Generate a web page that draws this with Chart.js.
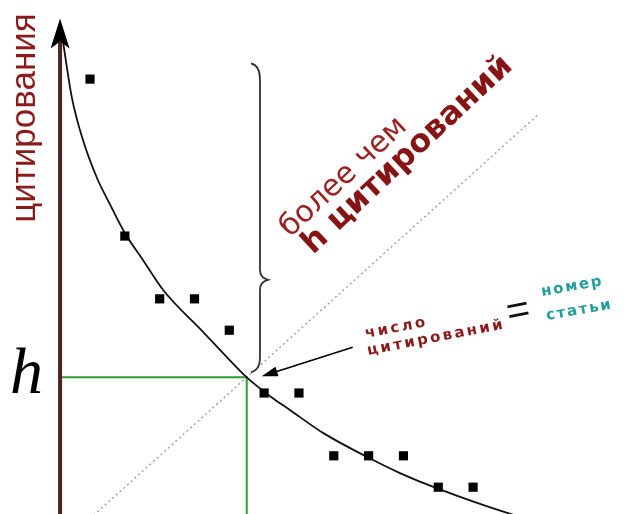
<!DOCTYPE html>
<html>
<head>
<meta charset="utf-8">
<script src="https://cdn.jsdelivr.net/npm/chart.js@4/dist/chart.umd.min.js"></script>
<style>
  body { margin: 0; background: #fff; }
  #wrap { width: 627px; height: 514px; }
</style>
</head>
<body>
<div id="wrap"><canvas id="myChart" width="627" height="514"></canvas></div>
<script>
// номера статей и число цитирований (по убыванию)
const papers = [1, 2, 3, 4, 5, 6, 7, 8, 9, 10, 11, 12]
const citations = [15, 10, 8, 8, 7, 5, 5, 3, 3, 3, 2, 2]

// гладкая кривая распределения
const curveX = [0.23, 0.48, 0.8, 1.2, 1.57, 2.0, 2.52, 3.1, 4.25, 4.82, 5.51, 6.17, 6.74, 7.69, 8.96, 9.9, 10.97, 12.98, 13.92]
const curveY = [16.15, 14.4, 13.05, 11.85, 11.02, 10.1, 9.24, 8.28, 6.94, 6.27, 5.49, 4.9, 4.46, 3.73, 2.96, 2.45, 1.96, 1.18, 0.89]

// диагональ "число цитирований = номер статьи"
const diagX = [1, 13.84]

const hIndex = 5.5
const axisX = 0.14
const axisTop = 16.2
const xMin = -1.585, xMax = 16.42
const yMin = 1.146, yMax = 17.52

const annotations = {
	id: 'annotations',
	afterDatasetsDraw(chart) {
		const ctx = chart.ctx
		const xs = chart.scales.x
		const ys = chart.scales.y
		ctx.save()

		// стрелка оси
		const ax = xs.getPixelForValue(axisX)
		const at = ys.getPixelForValue(axisTop)
		ctx.fillStyle = '#000'
		ctx.beginPath()
		ctx.moveTo(ax, at - 23)
		ctx.lineTo(ax - 9.5, at + 7)
		ctx.lineTo(ax, at)
		ctx.lineTo(ax + 9.5, at + 7)
		ctx.closePath()
		ctx.fill()

		// фигурная скобка
		const bx = xs.getPixelForValue(hIndex + 0.38)
		const bt = ys.getPixelForValue(citations[0] + 0.5)
		const bb = ys.getPixelForValue(hIndex) - 5
		const bm = (bt + bb) / 2 + 62
		ctx.strokeStyle = '#333'
		ctx.lineWidth = 1.8
		ctx.beginPath()
		ctx.moveTo(bx - 9, bt)
		ctx.quadraticCurveTo(bx, bt + 2, bx, bt + 16)
		ctx.lineTo(bx, bm - 10)
		ctx.quadraticCurveTo(bx, bm - 2, bx + 8, bm)
		ctx.quadraticCurveTo(bx, bm + 2, bx, bm + 10)
		ctx.lineTo(bx, bb - 14)
		ctx.quadraticCurveTo(bx, bb - 2, bx - 9, bb)
		ctx.stroke()

		// стрелка к точке h
		const tipX = xs.getPixelForValue(hIndex) + 15
		const tipY = ys.getPixelForValue(hIndex) - 1
		const fromX = tipX + 91, fromY = tipY - 29
		const ang = Math.atan2(tipY - fromY, tipX - fromX)
		ctx.strokeStyle = '#000'
		ctx.lineWidth = 1.6
		ctx.beginPath()
		ctx.moveTo(fromX, fromY)
		ctx.lineTo(tipX - 10 * Math.cos(ang), tipY - 10 * Math.sin(ang))
		ctx.stroke()
		ctx.beginPath()
		ctx.moveTo(tipX, tipY)
		ctx.lineTo(tipX - 16 * Math.cos(ang) + 5 * Math.sin(ang), tipY - 16 * Math.sin(ang) - 5 * Math.cos(ang))
		ctx.lineTo(tipX - 16 * Math.cos(ang) - 5 * Math.sin(ang), tipY - 16 * Math.sin(ang) + 5 * Math.cos(ang))
		ctx.closePath()
		ctx.fill()

		// подписи
		const text = (str, x, y, deg, font, color, align, spacing) => {
			ctx.save()
			ctx.translate(x, y)
			ctx.rotate(deg * Math.PI / 180)
			ctx.font = font
			ctx.fillStyle = color
			ctx.textAlign = align || 'left'
			ctx.textBaseline = 'alphabetic'
			ctx.letterSpacing = spacing || '0px'
			ctx.fillText(str, 0, 0)
			ctx.restore()
		}
		text('цитирования', 35, 118, -90, '35px "Liberation Sans"', '#8b1a1a', 'center')
		text('h', 10, 393, 0, 'italic 66px "Liberation Serif"', '#000')
		text('более чем', 290, 238, -43, '30px "DejaVu Sans"', '#9b2222')
		text('h цитирований', 313, 255, -43, 'bold 32px "DejaVu Sans"', '#861414')
		text('число', 366, 338, -11, 'bold 15px "DejaVu Sans"', '#8b1a1a', 'left', '2.5px')
		text('цитирований', 368, 355, -11, 'bold 15px "DejaVu Sans"', '#8b1a1a', 'left', '2.5px')
		text('=', 509, 325, -11, '40px "Liberation Sans"', '#111')
		text('номер', 542, 296, -10, 'bold 15px "DejaVu Sans"', '#259d9d', 'left', '1.8px')
		text('статьи', 547, 320, -10, 'bold 15px "DejaVu Sans"', '#259d9d', 'left', '1.8px')

		ctx.restore()
	}
}

const context = document.getElementById('myChart')
const data = {
	datasets: [
		{
			label: 'статьи',
			type: 'scatter',
			data: papers.map((p, i) => ({ x: p, y: citations[i] })),
			pointStyle: 'rect',
			pointRadius: 6.5,
			pointHoverRadius: 6.5,
			backgroundColor: '#000',
			borderWidth: 0,
			order: 0,
		},
		{
			label: 'кривая',
			type: 'line',
			data: curveX.map((x, i) => ({ x: x, y: curveY[i] })),
			borderColor: '#111',
			borderWidth: 1.8,
			pointRadius: 0,
			cubicInterpolationMode: 'monotone',
			fill: false,
			order: 1,
		},
		{
			label: 'ось',
			type: 'line',
			data: [{ x: axisX, y: yMin - 1 }, { x: axisX, y: axisTop }],
			borderColor: '#4d2222',
			borderWidth: 4,
			pointRadius: 0,
			order: 2,
		},
		{
			label: 'h',
			type: 'line',
			data: [{ x: axisX, y: hIndex }, { x: hIndex, y: hIndex }, { x: hIndex, y: yMin - 1 }],
			borderColor: '#2f9a2f',
			borderWidth: 2,
			pointRadius: 0,
			order: 3,
		},
		{
			label: 'диагональ',
			type: 'line',
			data: diagX.map(v => ({ x: v, y: v })),
			borderColor: '#999',
			borderWidth: 1.3,
			borderDash: [2, 3],
			pointRadius: 0,
			order: 4,
		},
	]
}
const config = {
	type: 'scatter',
	data: data,
	options: {
		responsive: false,
		animation: false,
		layout: { padding: 0, autoPadding: false },
		plugins: { legend: { display: false }, tooltip: { enabled: false } },
		scales: {
			x: { type: 'linear', min: xMin, max: xMax, display: false },
			y: { type: 'linear', min: yMin, max: yMax, display: false },
		},
	},
	plugins: [annotations],
}
const myChart = new Chart(context, config)
</script>
</body>
</html>
